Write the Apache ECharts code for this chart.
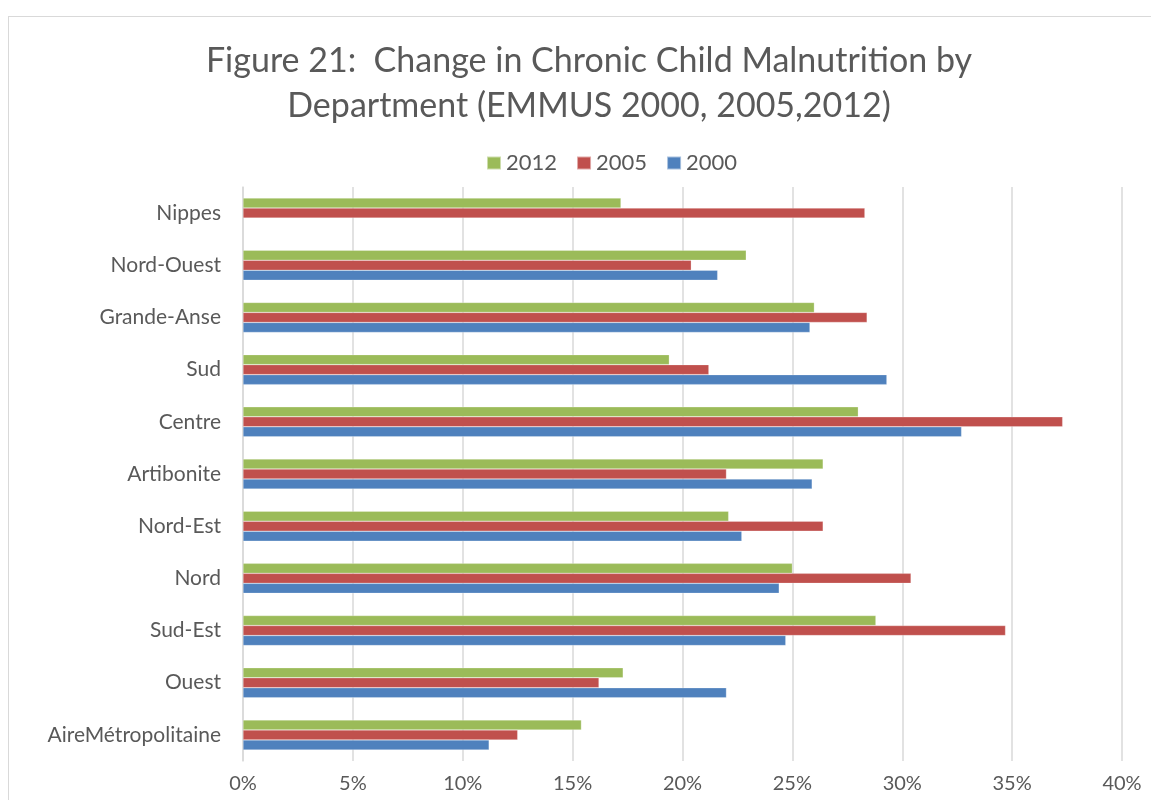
<!DOCTYPE html>
<html>
<head>
<meta charset="utf-8">
<script src="https://cdn.jsdelivr.net/npm/echarts@6/dist/echarts.min.js"></script>
<style>
  html, body { margin: 0; padding: 0; background: #fff; }
  #chart { width: 1151px; height: 800px; }
  #frame { position: absolute; left: 8px; top: 16px; width: 1200px; height: 900px; border: 1px solid #d9d9d9; box-sizing: border-box; pointer-events: none; }
</style>
</head>
<body>
<div id="frame"></div>
<div id="chart"></div>
<script>
// departments, bottom to top as on the axis
const departments = ['AireMétropolitaine', 'Ouest', 'Sud-Est', 'Nord', 'Nord-Est', 'Artibonite',
  'Centre', 'Sud', 'Grande-Anse', 'Nord-Ouest', 'Nippes'];
// stunting rates (%)
const values2012 = [15.4, 17.3, 28.8, 25.0, 22.1, 26.4, 28.0, 19.4, 26.0, 22.9, 17.2];
const values2005 = [12.5, 16.2, 34.7, 30.4, 26.4, 22.0, 37.3, 21.2, 28.4, 20.4, 28.3];
const values2000 = [11.2, 22.0, 24.7, 24.4, 22.7, 25.9, 32.7, 29.3, 25.8, 21.6, null];
const xTicks = [0, 5, 10, 15, 20, 25, 30, 35, 40];

const textColor = '#595959';
const fontFamily = 'Lato, "Open Sans", sans-serif';

const chart = echarts.init(document.getElementById('chart'));

function barSeries(name, data, color) {
  return {
    name: name,
    type: 'bar',
    data: data,
    barWidth: 10,
    barGap: '0%',
    itemStyle: { color: color, borderColor: 'rgba(255,255,255,0.5)', borderWidth: 0.5 },
    emphasis: { disabled: true }
  };
}

chart.setOption({
  animation: false,
  textStyle: { fontFamily: fontFamily },
  title: {
    text: 'Figure 21:  Change in Chronic Child Malnutrition by\nDepartment (EMMUS 2000, 2005,2012)',
    left: 584,
    textAlign: 'center',
    top: 34,
    textStyle: { fontFamily: fontFamily, fontSize: 34, fontWeight: 'normal', color: textColor, lineHeight: 45 }
  },
  legend: {
    top: 147,
    left: 481,
    itemWidth: 14,
    itemHeight: 13,
    itemGap: 19,
    icon: 'rect',
    textStyle: { fontFamily: fontFamily, fontSize: 22, color: textColor },
    data: ['2012', '2005', '2000']
  },
  grid: { left: 243, right: 29, top: 187, bottom: 39, containLabel: false },
  xAxis: {
    type: 'value',
    min: xTicks[0],
    max: xTicks[xTicks.length - 1],
    interval: 5,
    axisLine: { show: false },
    axisTick: { show: false },
    splitLine: { lineStyle: { color: '#d9d9d9', width: 1.5 } },
    axisLabel: { formatter: '{value}%', fontSize: 20, color: textColor, margin: 13, fontFamily: fontFamily }
  },
  yAxis: {
    type: 'category',
    data: departments,
    axisLine: { lineStyle: { color: '#d9d9d9', width: 1.5 } },
    axisTick: { show: false },
    axisLabel: { fontSize: 21, color: textColor, margin: 22, fontFamily: fontFamily }
  },
  series: [
    barSeries('2012', values2012, '#9bbb59'),
    barSeries('2005', values2005, '#c0504d'),
    barSeries('2000', values2000, '#4f81bd')
  ]
});
</script>
</body>
</html>
